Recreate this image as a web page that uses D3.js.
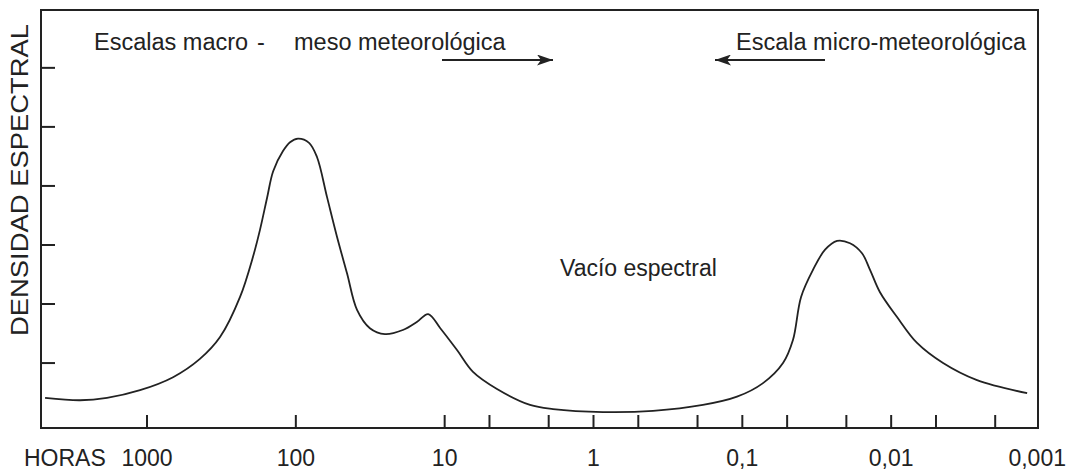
<!DOCTYPE html>
<html>
<head>
<meta charset="utf-8">
<script src="https://cdn.jsdelivr.net/npm/d3@7"></script>
<style>
  body { margin: 0; background: #fff; }
  text { font-family: "Liberation Sans", Arial, sans-serif; fill: #222; }
</style>
</head>
<body>
<svg id="chart" width="1068" height="470"></svg>
<script>
// periodo en horas (eje x, logarítmico) y densidad espectral relativa
var hours = [4840, 2818, 1857, 1114, 668, 441, 323, 237, 194, 174, 156, 142, 122, 109.4, 96.7, 81.5, 72.1,
  61.7, 52.9, 45.3, 38.8, 31.8, 25.2, 19.1, 15.3, 12.9, 10.7, 8.26, 6.45, 4.45, 2.67, 1.87,
  0.863, 0.398, 0.184, 0.1086, 0.0726, 0.0533, 0.0457, 0.0403, 0.0335, 0.0278, 0.0231, 0.0189,
  0.0157, 0.01387, 0.01189, 0.00913, 0.0067, 0.00448, 0.00265, 0.00122];
var density = [0.41, 0.37, 0.41, 0.54, 0.76, 1.07, 1.44, 2.12, 2.80, 3.26, 3.80, 4.25, 4.59, 4.74, 4.80, 4.73, 4.49,
  3.81, 3.14, 2.52, 1.90, 1.59, 1.49, 1.56, 1.70, 1.83, 1.59, 1.22, 0.85, 0.56, 0.29, 0.22,
  0.17, 0.19, 0.29, 0.43, 0.66, 1.00, 1.39, 2.12, 2.58, 2.92, 3.07, 3.03,
  2.86, 2.58, 2.20, 1.78, 1.34, 1.00, 0.71, 0.49];

var labelTicks = [1000, 100, 10, 1, 0.1, 0.01, 0.001];
var tickLabels = ["1000", "100", "10", "1", "0,1", "0,01", "0,001"];
var minorTicks = [5, 2, 0.5, 0.2, 0.05, 0.02, 0.005, 0.002];
var yTicks = [1, 2, 3, 4, 5, 6];

var margin = {left: 41, right: 1038, top: 10, bottom: 428};
var ink = "#222";

var svg = d3.select("#chart");

var x = d3.scaleLog().domain([1000, 0.001]).range([147, 1040]);
var y = d3.scaleLinear().domain([-0.1, 6.98]).range([margin.bottom, margin.top]);

// marco
svg.append("rect")
  .attr("x", margin.left).attr("y", margin.top)
  .attr("width", margin.right - margin.left).attr("height", margin.bottom - margin.top)
  .attr("fill", "none").attr("stroke", ink).attr("stroke-width", 2);

// marcas del eje x (hacia dentro)
var xTickVals = labelTicks.slice(0, 6).concat(minorTicks);
svg.append("g").selectAll("line")
  .data(xTickVals)
  .enter()
  .append("line")
    .attr("x1", function(d){ return x(d); })
    .attr("x2", function(d){ return x(d); })
    .attr("y1", margin.bottom)
    .attr("y2", margin.bottom - 13)
    .attr("stroke", ink)
    .attr("stroke-width", 2);

svg.append("g").selectAll("text")
  .data(labelTicks)
  .enter()
  .append("text")
    .attr("x", function(d, i){ return i === labelTicks.length - 1 ? 1066 : x(d); })
    .attr("y", 466)
    .attr("text-anchor", function(d, i){ return i === labelTicks.length - 1 ? "end" : "middle"; })
    .style("font-size", "23px")
    .text(function(d, i){ return tickLabels[i]; });

svg.append("text")
  .attr("x", 24).attr("y", 466)
  .style("font-size", "23px")
  .text("HORAS");

// marcas del eje y
svg.append("g").selectAll("line")
  .data(yTicks)
  .enter()
  .append("line")
    .attr("x1", margin.left)
    .attr("x2", margin.left + 14)
    .attr("y1", function(d){ return y(d); })
    .attr("y2", function(d){ return y(d); })
    .attr("stroke", ink)
    .attr("stroke-width", 2);

svg.append("text")
  .attr("transform", "translate(28,180) rotate(-90)")
  .attr("text-anchor", "middle")
  .attr("textLength", 312)
  .attr("lengthAdjust", "spacingAndGlyphs")
  .style("font-size", "23.5px")
  .text("DENSIDAD ESPECTRAL");

// curva
var points = hours.map(function(h, i){ return [h, density[i]]; });
var line = d3.line()
  .x(function(d){ return x(d[0]); })
  .y(function(d){ return y(d[1]); })
  .curve(d3.curveCatmullRom.alpha(0.5));

svg.append("path")
  .datum(points)
  .attr("d", line)
  .attr("fill", "none")
  .attr("stroke", ink)
  .attr("stroke-width", 1.8);

// textos y flechas
svg.append("defs").append("marker")
  .attr("id", "head")
  .attr("viewBox", "0 0 16 11")
  .attr("refX", 16).attr("refY", 5.5)
  .attr("markerWidth", 16).attr("markerHeight", 11)
  .attr("markerUnits", "userSpaceOnUse")
  .attr("orient", "auto")
  .append("path")
    .attr("d", "M0,0L16,5.5L0,11L4,5.5Z")
    .attr("fill", ink);

svg.append("text").attr("x", 94).attr("y", 50).style("font-size", "23.5px").text("Escalas macro");
svg.append("text").attr("x", 257).attr("y", 50).style("font-size", "23.5px").text("-");
svg.append("text").attr("x", 294).attr("y", 50).style("font-size", "23.5px").text("meso meteorológica");
svg.append("text").attr("x", 1026).attr("y", 50).attr("text-anchor", "end").style("font-size", "23.5px").text("Escala micro-meteorológica");

svg.append("line").attr("x1", 442).attr("x2", 553).attr("y1", 60).attr("y2", 60)
  .attr("stroke", ink).attr("stroke-width", 2).attr("marker-end", "url(#head)");
svg.append("line").attr("x1", 825).attr("x2", 715).attr("y1", 60).attr("y2", 60)
  .attr("stroke", ink).attr("stroke-width", 2).attr("marker-end", "url(#head)");

svg.append("text").attr("x", 560).attr("y", 276).style("font-size", "23px").text("Vacío espectral");
</script>
</body>
</html>
